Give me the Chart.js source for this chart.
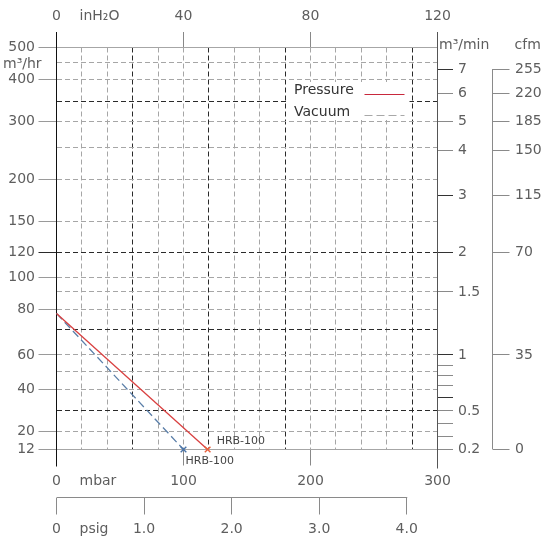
<!DOCTYPE html>
<html><head><meta charset="utf-8">
<script src="https://cdn.jsdelivr.net/npm/chart.js@4.4.1/dist/chart.umd.min.js"></script>
<style>html,body{margin:0;padding:0;background:#fff}#wrap{width:551px;height:537px}</style>
</head><body><div id="wrap"><canvas id="c" width="551" height="537"></canvas></div>
<script>
// ---------------- data ----------------
const seriesNames = ['Pressure', 'Vacuum'];
const modelName = 'HRB-100';
const pressureMbar = [0, 119];
const pressureFlow = [78, 12];          // m3/hr
const vacuumMbar = [0, 100];
const vacuumFlow = [78, 12];            // m3/hr

// axis ticks
const mbarGrid = [0,20,40,60,80,100,120,140,160,180,200,220,240,260,280,300];
const mbarLabelled = [0,100,200,300];
const mbarDark = [60,120,180,280];
const inH2OTicks = [0,40,80,120];
const psigTicks = [0,1,2,3,4];
const flowGrid = [12,20,30,40,50,60,70,80,90,100,120,150,200,250,300,350,400,450,500];
const flowLabelled = [12,20,40,60,80,100,120,150,200,300,400,500];
const flowDark = [30,70,120,350];
const m3minTicks = [0.2,0.3,0.4,0.5,0.6,0.7,0.8,0.9,1,1.5,2,3,4,5,6,7];
const m3minLabelled = [0.2,0.5,1,1.5,2,3,4,5,6,7];
const m3minDark = [0.6,1,2,3,7];
const cfmAtM3min = [0.2,1,2,3,4,5,6,7];
const cfmLabels = ['0','35','70','115','150','185','220','255'];
const unitLabels = {flowHr:'m³/hr', inH2O:'inH₂O', mbar:'mbar', psig:'psig', flowMin:'m³/min', cfm:'cfm'};

// ---------------- scale definition (the chart's non-uniform flow axis) ----------------
// [value m3/hr, fraction of axis height]
const FLOW_SCALE_MAP = [
  [12,0],[20,0.0443],[30,0.0958],[40,0.1498],[50,0.1933],[60,0.2351],[70,0.2973],
  [80,0.3488],[90,0.3918],[100,0.4274],[120,0.4893],[150,0.5667],[180,0.6313],
  [200,0.6721],[240,0.7433],[250,0.7507],[300,0.8164],[350,0.8669],[360,0.8861],
  [400,0.9204],[420,0.9465],[450,0.9622],[500,1]
];

// ---------------- styles ----------------
const FONT = "'DejaVu Sans', sans-serif";
const GREY = '#a6a6a6', DARK = '#2a2a2a', CLEAR = 'rgba(0,0,0,0)', TEXT = '#5e5e5e';
const DASH = [5,3];
const lineColors = ['#d94040', '#5a7ea8'];
const markerColors = ['#e8603c', '#4a74a8'];
const legendColors = ['#c8283c', '#a8a8a8'];
const endLabelOffsets = [[9,-8],[2,12]];

class FlowScale extends Chart.LinearScale {
  _decimal(v) {
    const m = FLOW_SCALE_MAP;
    let i = 1;
    while (i < m.length - 1 && v > m[i][0]) i++;
    const [v0,f0] = m[i-1], [v1,f1] = m[i];
    return f0 + (v - v0) / (v1 - v0) * (f1 - f0);
  }
  getPixelForValue(value) {
    if (value === null || value === undefined || Number.isNaN(+value)) return NaN;
    return this.getPixelForDecimal(this._decimal(+value));
  }
  getValueForPixel(pixel) {
    const d = this.getDecimalForPixel(pixel);
    const m = FLOW_SCALE_MAP;
    let i = 1;
    while (i < m.length - 1 && d > m[i][1]) i++;
    const [v0,f0] = m[i-1], [v1,f1] = m[i];
    return v0 + (d - f0) / (f1 - f0) * (v1 - v0);
  }
}
FlowScale.id = 'flow';
FlowScale.defaults = {};
Chart.register(FlowScale);

const tickFont = {family: FONT, size: 14};
const setTicks = arr => s => { s.ticks = arr.map(v => ({value: v})); };

const decor = {
  id: 'decor',
  beforeDatasetsDraw(chart) {
    const {ctx, chartArea: ca, scales} = chart;
    const x = scales.x, xTop = scales.xTop, ps = scales.xPsig, cf = scales.yCfm, ym = scales.yMin, y = scales.y;
    const al = v => Math.round(v - 0.5) + 0.5;
    const line = (x1, y1, x2, y2, c) => {
      ctx.strokeStyle = c; ctx.lineWidth = 1; ctx.setLineDash([]);
      ctx.beginPath(); ctx.moveTo(x1, y1); ctx.lineTo(x2, y2); ctx.stroke();
    };
    ctx.save();
    const top = xTop.bottom - 15.5;
    const lx = al(x.getPixelForValue(0)), rx = al(x.getPixelForValue(300));
    line(lx, top, lx, ca.bottom + 17, '#111');
    line(rx, top, rx, ca.bottom + 19, '#555');
    // psig axis line (0 to 4.0)
    const py = al(ps.top);
    line(ps.getPixelForValue(0), py, ps.getPixelForValue(4) + 0.5, py, '#8a8a8a');
    // cfm axis line
    const cx = al(cf.left);
    line(cx, cf.getPixelForValue(420), cx, cf.getPixelForValue(12), '#8a8a8a');
    // unit labels
    ctx.fillStyle = TEXT; ctx.font = `14px ${FONT}`; ctx.textBaseline = 'middle'; ctx.textAlign = 'left';
    ctx.fillText(unitLabels.flowHr, 3, y.getPixelForValue(450) + 1.5);
    ctx.fillText(unitLabels.inH2O, xTop.getPixelForValue(0) + 23, 16);
    ctx.fillText(unitLabels.mbar, x.getPixelForValue(0) + 23, 481.5);
    ctx.fillText(unitLabels.psig, ps.getPixelForValue(0) + 23, 529);
    ctx.fillText(unitLabels.flowMin, ym.left + 1.5, ca.top - 2);
    ctx.fillText(unitLabels.cfm, cf.left + 22, ca.top - 2);
    ctx.restore();
  },
  afterDatasetsDraw(chart) {
    const {ctx, chartArea: ca} = chart;
    const ds = chart.data.datasets;
    ctx.save();
    // legend
    const lx = ca.left + 230, ly = ca.top + 34.5, lw = 123, lh = 38;
    ctx.fillStyle = '#fff'; ctx.fillRect(lx, ly, lw, lh);
    ctx.font = `14px ${FONT}`; ctx.textBaseline = 'middle'; ctx.textAlign = 'left';
    ds.forEach((d, i) => {
      const cy = ly + 8.5 + i * 21.5;
      ctx.fillStyle = '#333'; ctx.fillText(d.label, lx + 7.5, cy);
      ctx.strokeStyle = legendColors[i]; ctx.lineWidth = 1; ctx.setLineDash(d.borderDash || []);
      ctx.beginPath(); ctx.moveTo(lx + 78, Math.round(cy + 3) + 0.5); ctx.lineTo(lx + 118, Math.round(cy + 3) + 0.5); ctx.stroke();
    });
    ctx.setLineDash([]);
    // end-point labels
    ctx.font = `11px ${FONT}`; ctx.fillStyle = '#444';
    ds.forEach((d, i) => {
      const meta = chart.getDatasetMeta(i);
      const pt = meta.data[meta.data.length - 1];
      ctx.fillText(modelName, pt.x + endLabelOffsets[i][0], pt.y + endLabelOffsets[i][1]);
    });
    ctx.restore();
  }
};

const toPoints = (xs, ys) => xs.map((v, i) => ({x: v, y: ys[i]}));
const lastPoint = c => c.dataIndex === c.dataset.data.length - 1;

new Chart(document.getElementById('c'), {
  type: 'line',
  data: {
    datasets: [
      {label: seriesNames[0], data: toPoints(pressureMbar, pressureFlow), borderColor: lineColors[0], borderWidth: 1.3,
       pointRadius: c => lastPoint(c) ? 4 : 0, pointStyle: 'crossRot', pointBorderColor: markerColors[0], pointBorderWidth: 1.4,
       xAxisID: 'x', yAxisID: 'y', clip: false, tension: 0},
      {label: seriesNames[1], data: toPoints(vacuumMbar, vacuumFlow), borderColor: lineColors[1], borderWidth: 1.3, borderDash: [8,4],
       pointRadius: c => lastPoint(c) ? 4 : 0, pointStyle: 'crossRot', pointBorderColor: markerColors[1], pointBorderWidth: 1.4,
       xAxisID: 'x', yAxisID: 'y', clip: false, tension: 0}
    ]
  },
  options: {
    responsive: false, animation: false, devicePixelRatio: 1, events: [],
    layout: {padding: 0},
    plugins: {legend: {display: false}, tooltip: {enabled: false}},
    scales: {
      x: {
        type: 'linear', position: 'bottom', weight: 0, min: 0, max: 300,
        afterBuildTicks: setTicks(mbarGrid),
        afterFit: s => { s.height = 48; },
        border: {display: false, dash: DASH},
        grid: {
          color: c => (c.tick.value === 0 || c.tick.value === 300) ? CLEAR : (mbarDark.includes(c.tick.value) ? DARK : GREY),
          lineWidth: 1, tickLength: 16, tickBorderDash: [],
          tickColor: c => (mbarLabelled.includes(c.tick.value) && c.tick.value !== 0 && c.tick.value !== 300) ? '#888' : CLEAR
        },
        ticks: {autoSkip: false, maxRotation: 0, padding: 7.7, color: TEXT, font: tickFont,
          callback: (v, i) => mbarLabelled.includes(mbarGrid[i]) ? String(mbarGrid[i]) : ''}
      },
      xPsig: {
        type: 'linear', position: 'bottom', weight: 1, min: 0, max: 300 / 68.9476,
        afterBuildTicks: setTicks(psigTicks),
        afterFit: s => { s.height = 39.5; },
        border: {display: false},
        grid: {drawOnChartArea: false, tickLength: 17, tickColor: '#8a8a8a', tickBorderDash: []},
        ticks: {autoSkip: false, maxRotation: 0, padding: 6, color: TEXT, font: tickFont,
          callback: (v, i) => psigTicks[i] === 0 ? '0' : psigTicks[i].toFixed(1)}
      },
      xTop: {
        type: 'linear', position: 'top', min: 0, max: 120,
        afterBuildTicks: setTicks(inH2OTicks),
        afterFit: s => { s.height = 47.5; },
        border: {display: false},
        grid: {drawOnChartArea: false, tickLength: 15.5, tickBorderDash: [],
          tickColor: c => (c.tick.value === 0 || c.tick.value === 120) ? CLEAR : '#888'},
        ticks: {autoSkip: false, maxRotation: 0, padding: 7.6, color: TEXT, font: tickFont,
          callback: (v, i) => String(inH2OTicks[i])}
      },
      y: {
        type: 'flow', position: 'left', min: 12, max: 500,
        afterBuildTicks: setTicks(flowGrid),
        afterFit: s => { s.width = 56.5; },
        border: {display: false, dash: c => (c.tick && (c.tick.value === 12 || c.tick.value === 500)) ? [] : DASH},
        grid: {
          color: c => flowDark.includes(c.tick.value) ? DARK : GREY,
          lineWidth: 1, tickLength: 18, tickBorderDash: [],
          tickColor: c => flowLabelled.includes(c.tick.value) ? (c.tick.value === 120 ? DARK : '#9a9a9a') : CLEAR
        },
        ticks: {autoSkip: false, padding: 3.5, color: TEXT, font: tickFont,
          callback: (v, i) => flowLabelled.includes(flowGrid[i]) ? String(flowGrid[i]) : ''}
      },
      yMin: {
        type: 'flow', position: 'right', weight: 0, min: 12, max: 500,
        afterBuildTicks: s => { s.ticks = m3minTicks.map(v => ({value: v * 60})); },
        afterFit: s => { s.width = 55; },
        border: {display: false},
        grid: {drawOnChartArea: false, tickLength: 15.5, tickBorderDash: [],
          tickColor: c => m3minDark.includes(m3minTicks[c.index]) ? '#333' : '#8a8a8a'},
        ticks: {autoSkip: false, padding: 5, color: TEXT, font: tickFont,
          callback: (v, i) => m3minLabelled.includes(m3minTicks[i]) ? String(m3minTicks[i]) : ''}
      },
      yCfm: {
        type: 'flow', position: 'right', weight: 1, min: 12, max: 500,
        afterBuildTicks: s => { s.ticks = cfmAtM3min.map(v => ({value: v * 60})); },
        afterFit: s => { s.width = 58.5; },
        border: {display: false},
        grid: {drawOnChartArea: false, tickLength: 17, tickColor: '#8a8a8a', tickBorderDash: []},
        ticks: {autoSkip: false, padding: 5.5, color: TEXT, font: tickFont,
          callback: (v, i) => cfmLabels[i]}
      }
    }
  },
  plugins: [decor]
});
</script>
</body></html>
